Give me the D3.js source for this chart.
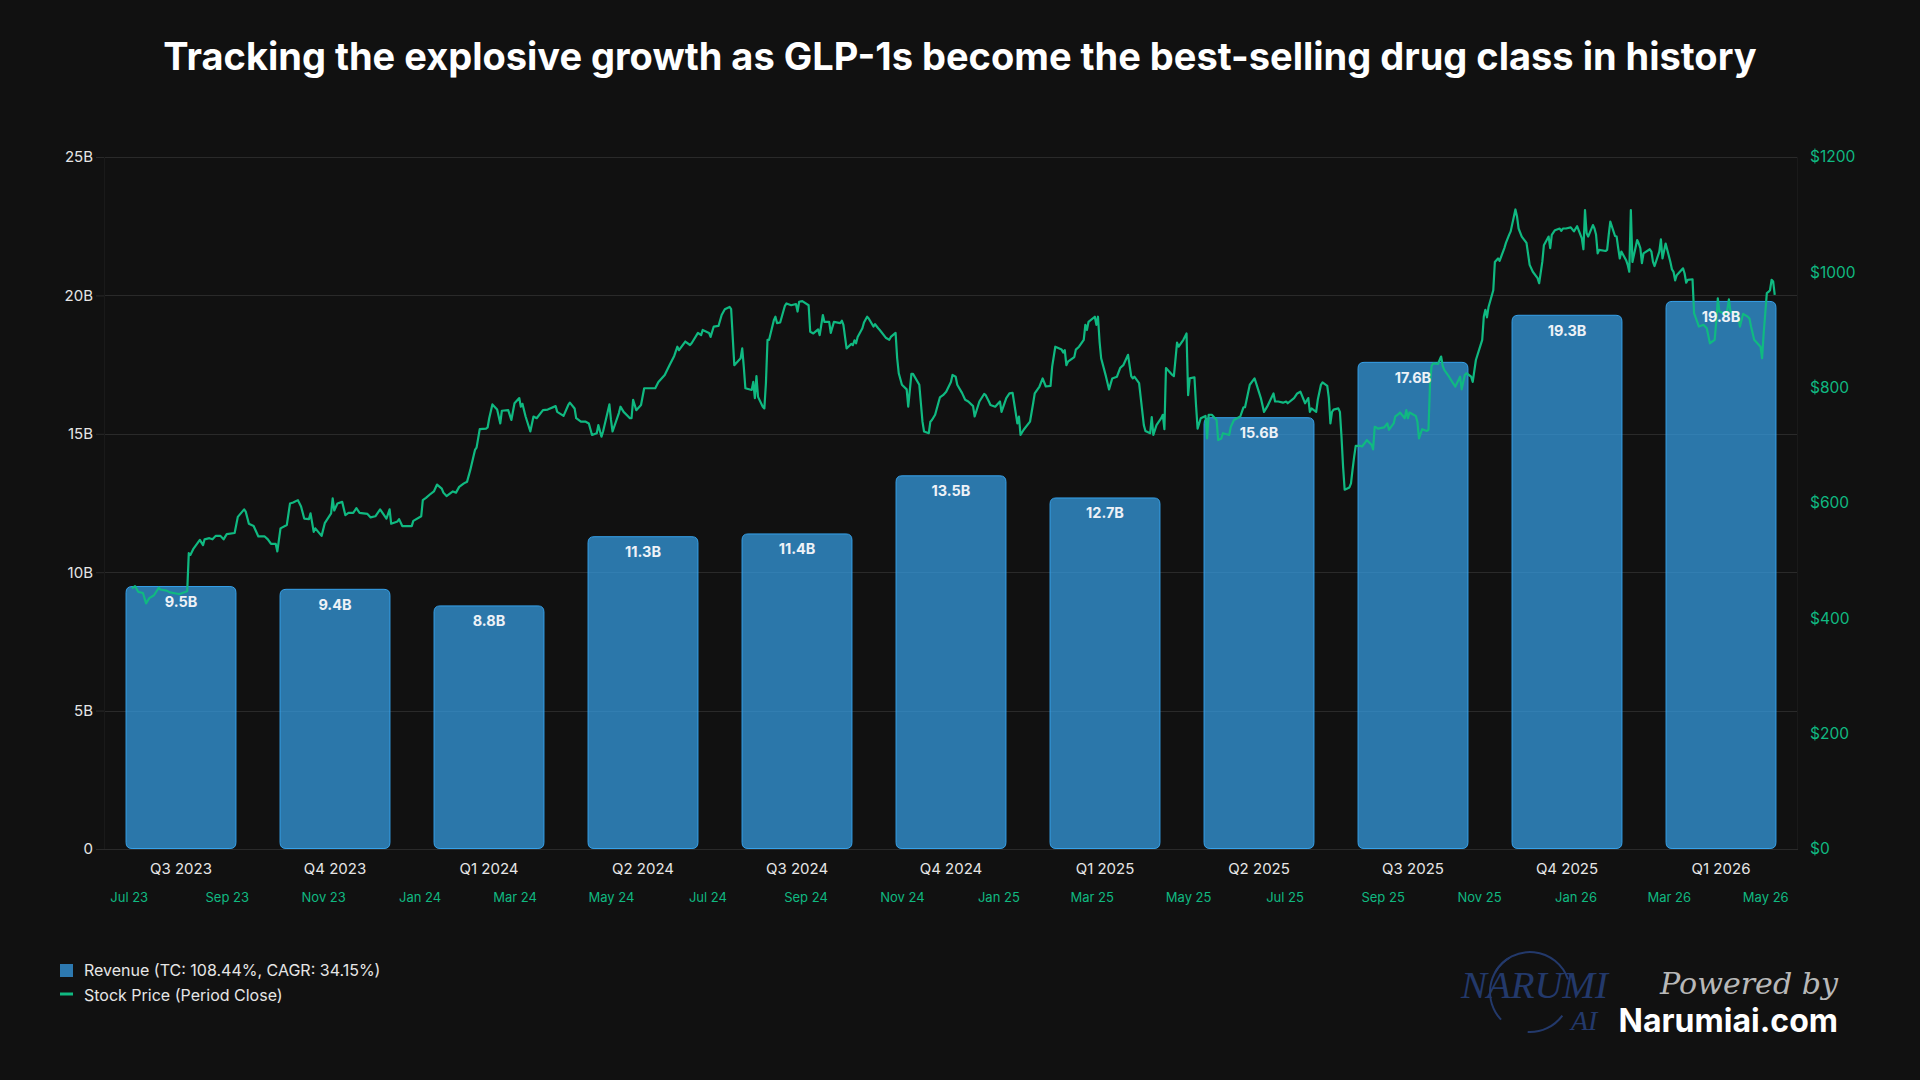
<!DOCTYPE html>
<html><head><meta charset="utf-8">
<script src="https://cdn.jsdelivr.net/npm/d3@7"></script>
<style>
html,body{margin:0;padding:0;background:#111111;}
svg{display:block;font-family:Inter,"Noto Sans",sans-serif;}
</style></head><body>
<svg id="chart" width="1920" height="1080"></svg>
<script>
// ---------------- DATA ----------------
const titleText = "Tracking the explosive growth as GLP-1s become the best-selling drug class in history";
const quarters = ["Q3 2023","Q4 2023","Q1 2024","Q2 2024","Q3 2024","Q4 2024","Q1 2025","Q2 2025","Q3 2025","Q4 2025","Q1 2026"];
const revenueB = [9.5, 9.4, 8.8, 11.3, 11.4, 13.5, 12.7, 15.6, 17.6, 19.3, 19.8];
const revenueTicks = [0, 5, 10, 15, 20, 25];
const priceTicks = [0, 200, 400, 600, 800, 1000, 1200];
const timeDomain = ["2023-06-15T09:00", "2026-05-21T17:00"];
const legendItems = ["Revenue (TC: 108.44%, CAGR: 34.15%)", "Stock Price (Period Close)"];

const stockDates = [
"2023-07-03","2023-07-05","2023-07-07","2023-07-10","2023-07-12","2023-07-14","2023-07-17","2023-07-20","2023-07-21","2023-07-25",
"2023-07-27","2023-07-31","2023-08-02","2023-08-04","2023-08-07","2023-08-08","2023-08-09","2023-08-11","2023-08-15","2023-08-17",
"2023-08-18","2023-08-21","2023-08-23","2023-08-25","2023-08-28","2023-08-30","2023-09-01","2023-09-06","2023-09-08","2023-09-12",
"2023-09-13","2023-09-15","2023-09-18","2023-09-21","2023-09-25","2023-09-27","2023-09-29","2023-10-02","2023-10-03","2023-10-05",
"2023-10-09","2023-10-11","2023-10-13","2023-10-16","2023-10-18","2023-10-20","2023-10-23","2023-10-24","2023-10-26","2023-10-27",
"2023-10-31","2023-11-02","2023-11-06","2023-11-07","2023-11-08","2023-11-10","2023-11-13","2023-11-15","2023-11-17","2023-11-20",
"2023-11-22","2023-11-24","2023-11-29","2023-12-01","2023-12-04","2023-12-07","2023-12-11","2023-12-13","2023-12-14","2023-12-18",
"2023-12-19","2023-12-21","2023-12-27","2023-12-28","2024-01-02","2024-01-03","2024-01-05","2024-01-08","2024-01-10","2024-01-12",
"2024-01-15","2024-01-16","2024-01-18","2024-01-22","2024-01-24","2024-01-26","2024-01-29","2024-01-31","2024-02-02","2024-02-05",
"2024-02-06","2024-02-08","2024-02-12","2024-02-13","2024-02-14","2024-02-16","2024-02-19","2024-02-21","2024-02-22","2024-02-26",
"2024-02-28","2024-03-01","2024-03-04","2024-03-05","2024-03-06","2024-03-08","2024-03-11","2024-03-13","2024-03-15","2024-03-19",
"2024-03-22","2024-03-27","2024-03-28","2024-04-01","2024-04-04","2024-04-05","2024-04-08","2024-04-09","2024-04-12","2024-04-15",
"2024-04-17","2024-04-19","2024-04-22","2024-04-23","2024-04-25","2024-04-26","2024-04-30","2024-05-01","2024-05-02","2024-05-06",
"2024-05-07","2024-05-09","2024-05-13","2024-05-14","2024-05-15","2024-05-17","2024-05-20","2024-05-22","2024-05-24","2024-05-29",
"2024-05-31","2024-06-04","2024-06-07","2024-06-10","2024-06-12","2024-06-13","2024-06-17","2024-06-20","2024-06-21","2024-06-25",
"2024-06-27","2024-06-28","2024-07-02","2024-07-03","2024-07-05","2024-07-08","2024-07-10","2024-07-12","2024-07-15","2024-07-16",
"2024-07-18","2024-07-22","2024-07-23","2024-07-24","2024-07-25","2024-07-29","2024-07-30","2024-07-31","2024-08-01","2024-08-02",
"2024-08-05","2024-08-06","2024-08-07","2024-08-08","2024-08-09","2024-08-12","2024-08-13","2024-08-14","2024-08-16","2024-08-19",
"2024-08-20","2024-08-23","2024-08-26","2024-08-27","2024-08-28","2024-08-30","2024-09-03","2024-09-04","2024-09-06","2024-09-09",
"2024-09-10","2024-09-12","2024-09-13","2024-09-16","2024-09-17","2024-09-19","2024-09-23","2024-09-24","2024-09-25","2024-09-27",
"2024-09-30","2024-10-01","2024-10-02","2024-10-03","2024-10-04","2024-10-07","2024-10-08","2024-10-10","2024-10-11","2024-10-14",
"2024-10-15","2024-10-17","2024-10-18","2024-10-22","2024-10-24","2024-10-25","2024-10-28","2024-10-29","2024-10-30","2024-11-01",
"2024-11-04","2024-11-05","2024-11-07","2024-11-08","2024-11-12","2024-11-13","2024-11-14","2024-11-15","2024-11-18","2024-11-19",
"2024-11-20","2024-11-22","2024-11-25","2024-11-27","2024-11-29","2024-12-02","2024-12-03","2024-12-05","2024-12-06","2024-12-09",
"2024-12-11","2024-12-13","2024-12-16","2024-12-17","2024-12-20","2024-12-23","2024-12-24","2024-12-26","2024-12-27","2024-12-30",
"2025-01-02","2025-01-03","2025-01-06","2025-01-08","2025-01-10","2025-01-13","2025-01-14","2025-01-15","2025-01-17","2025-01-21",
"2025-01-23","2025-01-24","2025-01-27","2025-01-29","2025-01-31","2025-02-03","2025-02-04","2025-02-06","2025-02-10","2025-02-11",
"2025-02-12","2025-02-13","2025-02-14","2025-02-18","2025-02-19","2025-02-21","2025-02-24","2025-02-25","2025-02-26","2025-02-27",
"2025-03-03","2025-03-04","2025-03-05","2025-03-06","2025-03-07","2025-03-10","2025-03-12","2025-03-14","2025-03-17","2025-03-19",
"2025-03-21","2025-03-24","2025-03-26","2025-03-27","2025-03-28","2025-03-31","2025-04-03","2025-04-04","2025-04-07","2025-04-08",
"2025-04-09","2025-04-11","2025-04-14","2025-04-15","2025-04-16","2025-04-17","2025-04-21","2025-04-22","2025-04-24","2025-04-25",
"2025-04-28","2025-04-30","2025-05-01","2025-05-02","2025-05-05","2025-05-06","2025-05-07","2025-05-09","2025-05-12","2025-05-13",
"2025-05-14","2025-05-16","2025-05-19","2025-05-20","2025-05-22","2025-05-23","2025-05-27","2025-05-28","2025-05-30","2025-06-03",
"2025-06-05","2025-06-06","2025-06-09","2025-06-12","2025-06-13","2025-06-16","2025-06-18","2025-06-20","2025-06-24","2025-06-25",
"2025-06-27","2025-06-30","2025-07-02","2025-07-03","2025-07-07","2025-07-09","2025-07-11","2025-07-14","2025-07-16","2025-07-17",
"2025-07-18","2025-07-21","2025-07-22","2025-07-24","2025-07-25","2025-07-28","2025-07-29","2025-07-30","2025-07-31","2025-08-01",
"2025-08-04","2025-08-05","2025-08-06","2025-08-07","2025-08-08","2025-08-11","2025-08-12","2025-08-13","2025-08-14","2025-08-15",
"2025-08-18","2025-08-19","2025-08-21","2025-08-22","2025-08-25","2025-08-26","2025-08-27","2025-08-28","2025-08-29","2025-09-02",
"2025-09-04","2025-09-05","2025-09-08","2025-09-09","2025-09-11","2025-09-12","2025-09-15","2025-09-16","2025-09-17","2025-09-18",
"2025-09-22","2025-09-23","2025-09-24","2025-09-26","2025-09-29","2025-09-30","2025-10-01","2025-10-02","2025-10-03","2025-10-06",
"2025-10-08","2025-10-09","2025-10-10","2025-10-13","2025-10-15","2025-10-17","2025-10-20","2025-10-21","2025-10-22","2025-10-23",
"2025-10-24","2025-10-27","2025-10-28","2025-10-30","2025-11-03","2025-11-04","2025-11-05","2025-11-06","2025-11-07","2025-11-10",
"2025-11-11","2025-11-13","2025-11-14","2025-11-17","2025-11-18","2025-11-20","2025-11-21","2025-11-24","2025-11-25","2025-11-26",
"2025-11-28","2025-12-01","2025-12-03","2025-12-05","2025-12-08","2025-12-09","2025-12-11","2025-12-12","2025-12-15","2025-12-16",
"2025-12-17","2025-12-19","2025-12-22","2025-12-23","2025-12-24","2025-12-26","2025-12-29","2025-12-31","2026-01-02","2026-01-05",
"2026-01-06","2026-01-07","2026-01-08","2026-01-09","2026-01-12","2026-01-13","2026-01-14","2026-01-15","2026-01-16","2026-01-20",
"2026-01-21","2026-01-22","2026-01-23","2026-01-26","2026-01-27","2026-01-28","2026-01-29","2026-01-30","2026-02-02","2026-02-03",
"2026-02-04","2026-02-05","2026-02-06","2026-02-09","2026-02-10","2026-02-11","2026-02-12","2026-02-13","2026-02-17","2026-02-18",
"2026-02-19","2026-02-20","2026-02-23","2026-02-24","2026-02-25","2026-02-27","2026-03-02","2026-03-03","2026-03-04","2026-03-05",
"2026-03-06","2026-03-09","2026-03-10","2026-03-11","2026-03-12","2026-03-13","2026-03-16","2026-03-17","2026-03-19","2026-03-20",
"2026-03-23","2026-03-25","2026-03-27","2026-03-30","2026-03-31","2026-04-01","2026-04-02","2026-04-06","2026-04-07","2026-04-08",
"2026-04-09","2026-04-13","2026-04-14","2026-04-15","2026-04-17","2026-04-20","2026-04-21","2026-04-22","2026-04-24","2026-04-27",
"2026-04-28","2026-04-29","2026-04-30","2026-05-02","2026-05-03","2026-05-04","2026-05-05","2026-05-06","2026-05-07"
];
const stockPrices = [
452,456,446,444,426,435,440,453,450,448,
445,443,442,444,447,513,510,521,536,527,
537,539,537,543,543,537,546,548,576,589,
585,564,560,542,542,537,529,529,516,556,
562,599,601,605,594,573,572,582,550,556,
543,565,582,608,587,599,602,579,583,583,
591,583,581,575,577,589,573,589,564,568,
572,560,560,569,577,605,609,616,620,632,
625,618,612,620,618,628,634,637,657,692,
696,728,729,731,747,771,762,738,760,761,
744,773,782,767,772,750,724,750,747,761,
762,768,758,751,770,774,764,747,741,741,
738,718,721,735,715,724,771,744,724,756,
767,758,747,747,779,761,770,799,799,799,
810,822,839,855,871,865,880,874,877,895,
891,900,895,888,906,907,926,936,940,936,
839,851,868,836,799,796,810,782,820,784,
767,764,808,883,883,917,923,912,913,942,
946,943,945,932,949,950,943,897,894,901,
891,926,914,914,895,914,912,916,909,868,
876,874,882,877,888,903,913,923,920,906,
910,903,900,886,883,888,895,851,825,805,
797,767,824,824,805,773,741,724,721,741,
744,753,783,787,793,810,822,819,805,791,
779,776,768,750,776,789,787,776,770,767,
776,758,782,790,791,738,750,718,727,741,
773,790,802,816,802,803,836,871,866,861,
865,839,845,853,866,871,883,909,900,914,
923,909,923,880,851,820,797,816,819,834,
839,857,820,816,819,808,735,725,721,749,
718,735,747,753,728,834,822,820,878,871,
883,894,787,816,818,770,729,747,751,712,
753,753,744,709,712,721,718,732,744,750,
766,766,805,816,808,782,758,767,790,776,
776,774,776,773,782,790,793,773,782,758,
764,758,779,805,809,803,782,738,758,762,
764,758,715,663,623,627,634,658,680,699,
699,698,705,709,701,693,732,731,729,731,
738,727,738,750,754,757,747,761,747,757,
751,741,712,728,725,727,808,838,842,841,
854,838,831,819,810,802,819,797,810,822,
825,819,810,848,883,923,935,922,940,969,
1018,1024,1020,1042,1051,1065,1071,1109,1097,1076,
1062,1051,1013,1001,990,981,1018,1047,1062,1042,
1065,1073,1076,1072,1076,1076,1078,1071,1080,1059,
1040,1108,1068,1062,1082,1076,1065,1033,1039,1037,
1039,1065,1088,1063,1062,1042,1024,1036,1021,1013,
1001,1108,1018,1056,1050,1042,1016,1033,1040,1036,
1018,1011,1036,1057,1024,1050,1018,1005,1001,986,
995,1004,1007,998,982,987,988,929,914,906,
909,903,877,883,914,955,932,928,935,953,
932,930,923,906,928,923,920,906,883,874,
871,851,894,964,966,969,987,984,961,943
];

// ---------------- LAYOUT ----------------
const W = 1920, H = 1080;
const plot = {left: 104, right: 1798, top: 157, bottom: 849};
const barFill = "rgba(54,162,235,0.7)", barStroke = "rgba(54,162,235,1)";
const green = "#10b981";
const gridColor = "#2a2a2a";

const svg = d3.select("#chart");
svg.append("rect").attr("width", W).attr("height", H).attr("fill", "#111111");

const parse = d3.timeParse("%Y-%m-%d");
const parseT = d3.timeParse("%Y-%m-%dT%H:%M");
const stock = stockDates.map((d, i) => ({date: parse(d), price: stockPrices[i]}));

const xBand = d3.scaleBand().domain(quarters).range([plot.left, plot.right]).paddingInner(0.28).paddingOuter(0.14);
const xTime = d3.scaleTime().domain(timeDomain.map(parseT)).range([plot.left, plot.right]);
const yRev = d3.scaleLinear().domain([0, 25]).range([plot.bottom, plot.top]);
const yPrice = d3.scaleLinear().domain([0, 1200]).range([plot.bottom, plot.top]);

// title
svg.append("text").attr("x", 960).attr("y", 70)
  .attr("text-anchor", "middle").attr("fill", "#ffffff")
  .attr("font-size", 38).attr("font-weight", 700).text(titleText);

// gridlines
svg.append("g").selectAll("line").data(revenueTicks).join("line")
  .attr("x1", plot.left).attr("x2", plot.right)
  .attr("y1", d => Math.round(yRev(d)) + 0.5).attr("y2", d => Math.round(yRev(d)) + 0.5)
  .attr("stroke", gridColor).attr("stroke-width", 1);
// border lines
svg.append("line").attr("x1", plot.left + 0.5).attr("x2", plot.left + 0.5).attr("y1", plot.top).attr("y2", plot.bottom)
  .attr("stroke", "#1a1a1a");
svg.append("line").attr("x1", plot.right - 0.5).attr("x2", plot.right - 0.5).attr("y1", plot.top).attr("y2", plot.bottom)
  .attr("stroke", "#1a1a1a");

// left axis
const leftAxis = svg.append("g").attr("transform", `translate(${plot.left},0)`)
  .call(d3.axisLeft(yRev).tickValues(revenueTicks).tickSize(8).tickPadding(3)
    .tickFormat(d => d === 0 ? "0" : d + "B"));
leftAxis.select(".domain").remove();
leftAxis.selectAll(".tick line").attr("stroke", gridColor);
leftAxis.selectAll(".tick text").attr("fill", "#e6e6e6").attr("font-size", 15)
  .attr("font-family", "Inter, sans-serif");

// right axis
const rightAxis = svg.append("g").attr("transform", `translate(${plot.right},0)`)
  .call(d3.axisRight(yPrice).tickValues(priceTicks).tickSize(0).tickPadding(12)
    .tickFormat(d => "$" + d));
rightAxis.select(".domain").remove();
rightAxis.selectAll(".tick text").attr("fill", green).attr("font-size", 15.5)
  .attr("font-family", "Inter, sans-serif");

// quarter labels
const qAxis = svg.append("g").attr("transform", `translate(0,${plot.bottom})`)
  .call(d3.axisBottom(xBand).tickSize(0).tickPadding(14));
qAxis.select(".domain").remove();
qAxis.selectAll(".tick text").attr("fill", "#e6e6e6").attr("font-size", 15)
  .attr("font-family", "Inter, sans-serif");

// date labels
const tAxis = svg.append("g").attr("transform", `translate(0,${plot.bottom})`)
  .call(d3.axisBottom(xTime).ticks(d3.timeMonth.every(2)).tickSize(0).tickPadding(44)
    .tickFormat(d3.timeFormat("%b %y")));
tAxis.select(".domain").remove();
tAxis.selectAll(".tick text").attr("fill", green).attr("font-size", 13)
  .attr("font-family", "Inter, sans-serif");

// bars
function roundedRect(x, y, w, h, r) {
  r = Math.min(r, h / 2, w / 2);
  return `M${x},${y + r}Q${x},${y} ${x + r},${y}H${x + w - r}Q${x + w},${y} ${x + w},${y + r}` +
         `V${y + h - r}Q${x + w},${y + h} ${x + w - r},${y + h}H${x + r}Q${x},${y + h} ${x},${y + h - r}Z`;
}
svg.append("g").selectAll("path").data(quarters).join("path")
  .attr("d", (q, i) => roundedRect(xBand(q) + 0.5, yRev(revenueB[i]) + 0.5, xBand.bandwidth() - 1, plot.bottom - yRev(revenueB[i]) - 1, 6))
  .attr("fill", barFill).attr("stroke", barStroke).attr("stroke-width", 1);

// stock line
const line = d3.line().x(d => xTime(d.date)).y(d => yPrice(d.price));
svg.append("path").datum(stock).attr("d", line)
  .attr("fill", "none").attr("stroke", green).attr("stroke-width", 2.2)
  .attr("stroke-linejoin", "round");

// bar labels
svg.append("g").selectAll("text").data(quarters).join("text")
  .attr("x", q => xBand(q) + xBand.bandwidth() / 2)
  .attr("y", (q, i) => yRev(revenueB[i]) + 21)
  .attr("text-anchor", "middle").attr("fill", "#eef2f7")
  .attr("font-size", 14.5).attr("font-weight", 700)
  .text((q, i) => revenueB[i].toFixed(1) + "B");

// legend
const lg = svg.append("g");
lg.append("rect").attr("x", 60).attr("y", 964).attr("width", 13).attr("height", 13).attr("fill", "#2d79b0");
lg.append("text").attr("x", 84).attr("y", 976).attr("fill", "#e6e6e6").attr("font-size", 16).text(legendItems[0]);
lg.append("line").attr("x1", 60).attr("x2", 73).attr("y1", 994).attr("y2", 994).attr("stroke", green).attr("stroke-width", 3);
lg.append("text").attr("x", 84).attr("y", 1001).attr("fill", "#e6e6e6").attr("font-size", 16).text(legendItems[1]);

// logo
const logo = svg.append("g");
const navy = "#23396b";
const arcGen = d3.arc();
logo.append("path").attr("transform", "translate(1530,992)")
  .attr("d", arcGen({innerRadius: 39, outerRadius: 41, startAngle: -1.05, endAngle: 1.25}))
  .attr("fill", navy);
logo.append("path").attr("transform", "translate(1530,992)")
  .attr("d", arcGen({innerRadius: 39, outerRadius: 41, startAngle: 3.95, endAngle: 5.75}))
  .attr("fill", navy);
logo.append("path").attr("transform", "translate(1530,992)")
  .attr("d", arcGen({innerRadius: 39, outerRadius: 41, startAngle: 2.2, endAngle: 3.2}))
  .attr("fill", navy);
logo.append("text").attr("x", 1461).attr("y", 998).attr("fill", navy)
  .attr("font-family", "'Liberation Serif','DejaVu Serif',serif")
  .attr("font-style", "italic").attr("font-size", 38).attr("textLength", 147).attr("lengthAdjust", "spacingAndGlyphs")
  .text("NARUMI");
logo.append("text").attr("x", 1571).attr("y", 1030).attr("fill", navy)
  .attr("font-family", "'Liberation Serif','DejaVu Serif',serif")
  .attr("font-style", "italic").attr("font-size", 28).text("AI");
logo.append("text").attr("x", 1660).attr("y", 994).attr("fill", "#b8b8b8")
  .attr("font-family", "'DejaVu Serif','Liberation Serif',serif")
  .attr("font-style", "italic").attr("font-size", 30).attr("textLength", 178).attr("lengthAdjust", "spacingAndGlyphs")
  .text("Powered by");
logo.append("text").attr("x", 1838).attr("y", 1032).attr("text-anchor", "end").attr("fill", "#ffffff")
  .attr("font-size", 32).attr("font-weight", 700).text("Narumiai.com");
</script>
</body></html>
